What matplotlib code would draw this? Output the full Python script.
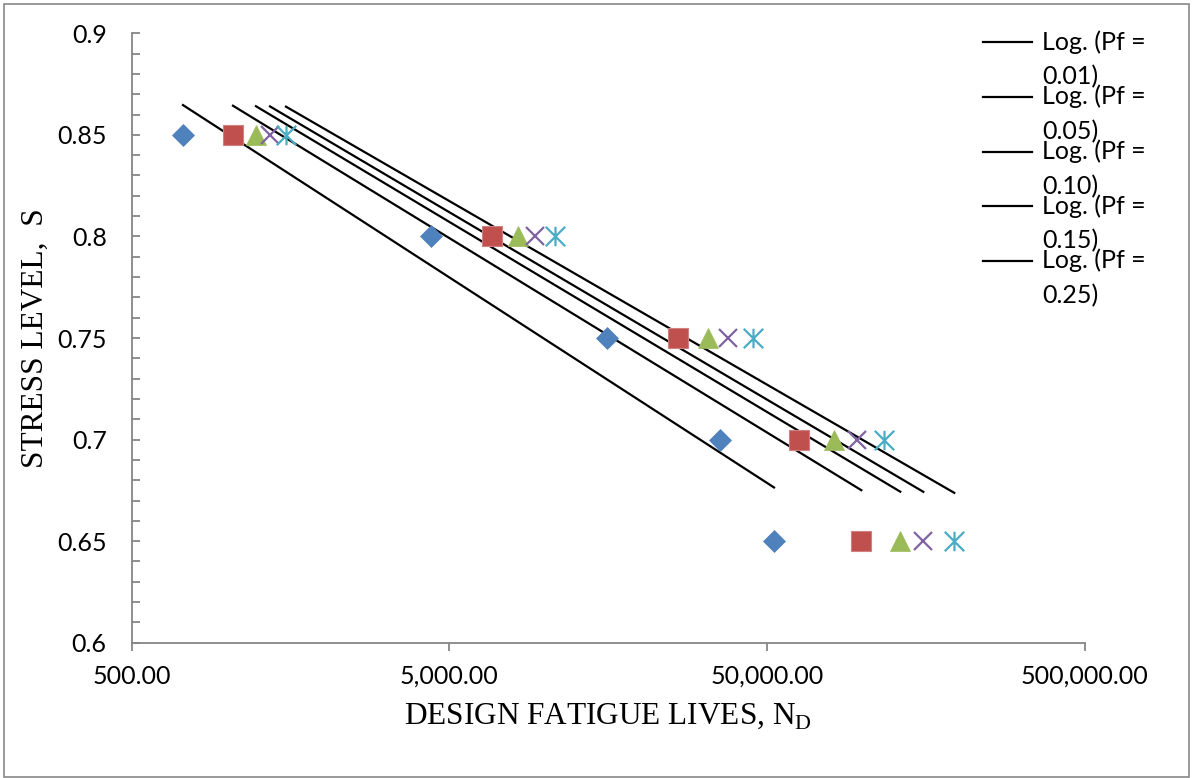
import numpy as np
import matplotlib
matplotlib.use("Agg")
import matplotlib.pyplot as plt
from matplotlib.path import Path
from matplotlib.patches import Rectangle
from matplotlib.ticker import FixedLocator, FuncFormatter, MultipleLocator
from matplotlib.legend_handler import HandlerLine2D

# ---- data ----
stress_levels = [0.85, 0.80, 0.75, 0.70, 0.65]
lives_pf001 = [725, 4380, 15720, 35500, 52650]
lives_pf005 = [1042, 6800, 26240, 63100, 99150]
lives_pf010 = [1231, 8230, 32700, 81500, 131500]
lives_pf015 = [1363, 9300, 37600, 96100, 155400]
lives_pf025 = [1530, 10760, 45100, 116600, 194500]
pf_labels = ["0.01", "0.05", "0.10", "0.15", "0.25"]
x_ticks = [500, 5000, 50000, 500000]
y_ticks = [0.6, 0.65, 0.7, 0.75, 0.8, 0.85, 0.9]

series = [lives_pf001, lives_pf005, lives_pf010, lives_pf015, lives_pf025]

# ---- styles ----
asterisk = Path([(-1, -1), (1, 1), (-1, 1), (1, -1), (0, -1), (0, 1)],
                [Path.MOVETO, Path.LINETO, Path.MOVETO, Path.LINETO, Path.MOVETO, Path.LINETO])
marker_styles = [
    dict(marker="D", ms=10.8, mfc="#4F81BD", mec="#4F81BD", mew=0.5),
    dict(marker="s", ms=14, mfc="#C0504D", mec="#D08080", mew=0.8),
    dict(marker="^", ms=14, mfc="#9BBB59", mec="#9BBB59", mew=0.5),
    dict(marker="x", ms=13.5, mfc="none", mec="#8064A2", mew=1.6),
    dict(marker=asterisk, ms=14, mfc="none", mec="#4BACC6", mew=1.6),
]

fig = plt.figure(figsize=(11.92, 7.78), dpi=100)
ax = fig.add_axes([131.7 / 1192, (778 - 642.7) / 778, (1084.5 - 131.7) / 1192, (642.7 - 33.3) / 778])

trend_handles = []
for xs, st, lab in zip(series, marker_styles, pf_labels):
    ax.plot(xs, stress_levels, linestyle="none", zorder=3, **st)
    xs_arr = np.array(xs, dtype=float)
    a, b = np.polyfit(np.log(xs_arr), np.array(stress_levels), 1)
    xl = np.array([xs_arr.min(), xs_arr.max()])
    ln, = ax.plot(xl, a * np.log(xl) + b, color="black", lw=1.6, zorder=2,
                  label="Log. (Pf =\n" + lab + ")")
    trend_handles.append(ln)

ax.set_xscale("log")
ax.set_xlim(500, 500000)
ax.set_ylim(0.6, 0.9)
ax.xaxis.set_major_locator(FixedLocator(x_ticks))
ax.xaxis.set_minor_locator(FixedLocator([]))
ax.xaxis.set_major_formatter(FuncFormatter(lambda v, p: "{:,.2f}".format(v)))
ax.yaxis.set_major_locator(FixedLocator(y_ticks))
ax.yaxis.set_minor_locator(MultipleLocator(0.01))
ax.yaxis.set_major_formatter(FuncFormatter(lambda v, p: "{:g}".format(round(v, 2))))

for s in ["top", "right"]:
    ax.spines[s].set_visible(False)
for s in ["left", "bottom"]:
    ax.spines[s].set_color("#868686")
    ax.spines[s].set_linewidth(1.3)

tick_font = "Lato"
ax.tick_params(axis="y", which="both", direction="in", length=6, width=1.3,
               color="#868686", pad=18, labelsize=18)
ax.tick_params(axis="x", which="major", direction="out", length=6, width=1.3,
               color="#868686", pad=10, labelsize=18)
for lbl in ax.get_xticklabels() + ax.get_yticklabels():
    lbl.set_fontfamily(tick_font)

ax.set_xlabel(r"DESIGN FATIGUE LIVES, N$_\mathregular{D}$", fontfamily="Liberation Serif", fontsize=22.5)
ax.set_ylabel("STRESS LEVEL,  S", fontfamily="Liberation Serif", fontsize=22.5)
ax.xaxis.set_label_coords(0.5, -0.096)
ax.yaxis.set_label_coords(-0.086, 0.5)


class TopLine(HandlerLine2D):
    def create_artists(self, legend, orig_handle, xdescent, ydescent, width, height, fontsize, trans):
        arts = super().create_artists(legend, orig_handle, xdescent, ydescent, width, height, fontsize, trans)
        for a in arts:
            yd = a.get_ydata()
            a.set_ydata(np.asarray(yd) + 12.8)
        return arts


leg = fig.legend(handles=trend_handles, loc="upper left",
                 bbox_to_anchor=(983 / 1192, (778 - 30) / 778), frameon=False,
                 prop={"family": "Lato", "size": 18}, handlelength=1.96, handletextpad=0.4,
                 labelspacing=-0.15, borderpad=0, borderaxespad=0,
                 handler_map={matplotlib.lines.Line2D: TopLine()})
for t in leg.get_texts():
    t.set_linespacing(1.6)

fig.add_artist(Rectangle((4 / 1192, 1 / 778), (1189 - 4) / 1192, (774 - 1) / 778,
                         transform=fig.transFigure, fill=False, edgecolor="#888888", lw=1.2))

fig.savefig("out.png", dpi=100)
